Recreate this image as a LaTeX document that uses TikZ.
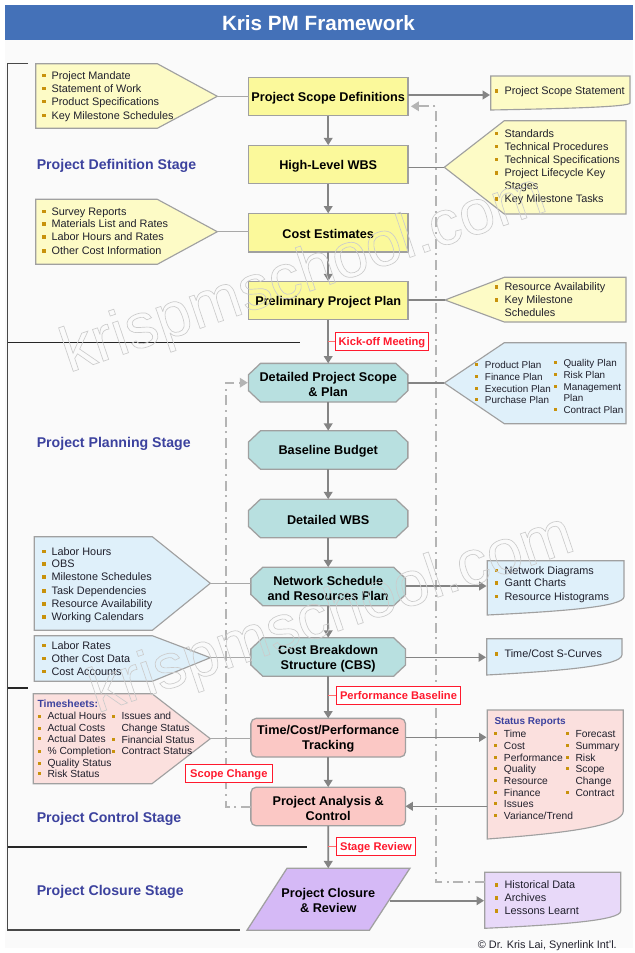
\documentclass[tikz,border=0pt]{standalone}
\usepackage{fontspec}
\setmainfont{Liberation Sans}
\usetikzlibrary{arrows.meta}
\definecolor{titlebar}{HTML}{4471B8}
\definecolor{pagebg}{HTML}{FAFAFA}
\definecolor{bracket}{HTML}{484848}
\definecolor{yellowbox}{HTML}{FBF99B}
\definecolor{yellowlite}{HTML}{FDFBC6}
\definecolor{tealbox}{HTML}{B8E0E0}
\definecolor{bluelite}{HTML}{DFF0FA}
\definecolor{pinkbox}{HTML}{FBC8C5}
\definecolor{pinklite}{HTML}{FBE0DE}
\definecolor{purplebox}{HTML}{D5B9F6}
\definecolor{purplelite}{HTML}{E8D9F9}
\definecolor{edgegrey}{HTML}{A0A0A0}
\definecolor{arrowgrey}{HTML}{848484}
\definecolor{dashgrey}{HTML}{B4B4B4}
\definecolor{linkgrey}{HTML}{A8A8A8}
\definecolor{stagenavy}{HTML}{3C429E}
\definecolor{bulletcol}{HTML}{C8920C}
\definecolor{bodytext}{HTML}{20202C}
\definecolor{flagred}{HTML}{FF1A2E}
\definecolor{flaglink}{HTML}{FF7070}
\tikzset{
  boxedge/.style={draw=edgegrey,line width=0.95pt},
  boxtext/.style={inner sep=0pt,outer sep=0pt,align=center,text=black,
    font=\fontsize{9.5}{11.25}\selectfont\bfseries},
  plainbox/.style={rectangle,inner sep=0pt,outer sep=0pt,minimum height=29pt},
  yellowstep/.style={plainbox,boxedge,fill=yellowbox,minimum width=119.5pt},
  pinkstep/.style={plainbox,boxedge,rounded corners=4pt,fill=pinkbox,minimum width=116pt},
  callout/.style={draw=edgegrey,line width=0.85pt},
  flow/.style={draw=arrowgrey,line width=1.2pt,-{Triangle[length=5.5pt,width=6.5pt]}},
  link/.style={draw=linkgrey,line width=1pt},
  back/.style={draw=dashgrey,line width=1.5pt,dash pattern=on 7.5pt off 3.5pt on 1.5pt off 3.5pt},
  backtip/.style={back,-{Triangle[length=6pt,width=7pt]}},
  frame/.style={draw=bracket,line width=1.15pt},
  stagelabel/.style={anchor=west,inner sep=0pt,text=stagenavy,text height=7.7pt,text depth=0pt,font=\fontsize{10.6}{12}\selectfont\bfseries},
  flag/.style={draw=flagred,fill=white,line width=0.85pt,inner sep=0pt,text=flagred,text height=6pt,text depth=0pt,minimum height=13.5pt,font=\fontsize{8.35}{10}\selectfont\bfseries},
  flaglinkstyle/.style={draw=flaglink,line width=1pt},
  listL/.style={inner sep=0pt,text=bodytext,text height=5.9pt,text depth=0pt,font=\fontsize{8.15}{10}\selectfont},
  listM/.style={inner sep=0pt,text=bodytext,text height=5.4pt,text depth=0pt,font=\fontsize{7.7}{10}\selectfont},
  listS/.style={inner sep=0pt,text=bodytext,text height=5.3pt,text depth=0pt,font=\fontsize{7.4}{10}\selectfont},
  heading/.style={inner sep=0pt,anchor=west,text=stagenavy,text height=5.4pt,text depth=0pt},
}
\newcounter{itm}
\newcommand\bhalf{1.8}
% style, bullet x, text x, y, text
\newcommand\lstitem[5]{\stepcounter{itm}%
  \fill[bulletcol] (#2-\bhalf,#4-\bhalf) rectangle (#2+\bhalf,#4+\bhalf);%
  \node[#1,anchor=west] (item\arabic{itm}) at (#3,#4) {#5};}
\newcommand\lstcont[4]{\stepcounter{itm}%
  \node[#1,anchor=west] (item\arabic{itm}) at (#2,#3) {#4};}
% fill colour, x1, x2, top, right bottom, left bottom
\newcommand\wavebox[6]{%
  \path[callout,fill=#1] (#2,#4) -- (#3,#4) -- (#3,#5)
    .. controls (#3,{#5+0.55*(#6-#5)}) and ({#3-0.45*(#3-#2)},{#5+0.8*(#6-#5)}) .. (#2,#6) -- cycle;}
% style, name, x, y, text
\newcommand\stepbox[5]{%
  \node[#1] (#2) at (#3,#4) {};
  \node[boxtext] (#2T) at ([yshift=-1.1pt]#2.center) {#5};}
% name, x, y, width, text
\newcommand\octa[5]{%
  \node[plainbox,minimum width=#4] (#1) at (#2,#3) {};
  \path[boxedge,fill=tealbox] ([xshift=9pt]#1.north west) -- ([xshift=-9pt]#1.north east)
    -- ([yshift=-8.5pt]#1.north east) -- ([yshift=8.5pt]#1.south east)
    -- ([xshift=-9pt]#1.south east) -- ([xshift=9pt]#1.south west)
    -- ([yshift=8.5pt]#1.south west) -- ([yshift=-8.5pt]#1.north west) -- cycle;
  \node[boxtext] (#1T) at ([yshift=-1.1pt]#1.center) {#5};}
\newcommand\wmtext[1]{\special{pdf:code q 0.8 G 0.5 w 1 Tr}#1\special{pdf:code Q}}
\begin{document}
\begin{tikzpicture}[x=0.75pt,y=-0.75pt]
\useasboundingbox (0,0) rectangle (635,953);
\fill[white] (0,0) rectangle (635,953);
\fill[pagebg] (5,5) rectangle (633,948);
\fill[titlebar] (5,5) rectangle (632.5,40);
\node[inner sep=0pt,text=white,text height=11.2pt,text depth=0pt,font=\fontsize{15.5}{18}\selectfont\bfseries] (title) at (318.5,22.7) {Kris PM Framework};

% stage frame
\coordinate (ftop) at (28,63.7);
\coordinate (fcorner) at (7.5,63.7);
\coordinate (fbottom) at (7.5,930);
\coordinate (fend) at (240,930);
\draw[frame] (ftop) -- (fcorner) -- (fbottom) -- (fend);
\coordinate (d1) at (300,342.7);
\coordinate (d2) at (27.5,688);
\coordinate (d3) at (307,847);
\draw[draw=black!85,line width=0.8pt] (fcorner |- d1) -- (d1);
\draw[draw=black!85,line width=0.8pt] (fcorner |- d2) -- (d2);
\draw[draw=black!85,line width=0.8pt] (fcorner |- d3) -- (d3);

% stage labels
\node[stagelabel] (st1) at (36.5,164) {Project Definition Stage};
\node[stagelabel] (st2) at (36.5,442) {Project Planning Stage};
\node[stagelabel] (st3) at (36.5,817) {Project Control Stage};
\node[stagelabel] (st4) at (36.5,890) {Project Closure Stage};

% callouts
\path[callout,fill=yellowlite] (35.7,63.7) -- (157.3,63.7) -- (217.3,96.3) -- (157.3,128.3) -- (35.7,128.3) -- cycle;
\coordinate (tipA) at (217.3,96.3);
\path[callout,fill=yellowlite] (35.7,199.3) -- (157.3,199.3) -- (217.3,231.7) -- (157.3,264.3) -- (35.7,264.3) -- cycle;
\coordinate (tipB) at (217.3,231.7);
\path[callout,fill=yellowlite] (444.3,167.3) -- (504.3,120.7) -- (626,120.7) -- (626,214) -- (504.3,214) -- cycle;
\coordinate (tipC) at (444.3,167.3);
\path[callout,fill=yellowlite] (445,300) -- (504.3,277.3) -- (626,277.3) -- (626,322) -- (504.3,322) -- cycle;
\coordinate (tipD) at (445,300);
\path[callout,fill=bluelite] (444.3,383) -- (504.3,342.7) -- (626,342.7) -- (626,423.7) -- (504.3,423.7) -- cycle;
\coordinate (tipE) at (444.3,383);
\path[callout,fill=bluelite] (34.3,536.7) -- (152.3,536.7) -- (210.3,583.3) -- (152.3,630.3) -- (34.3,630.3) -- cycle;
\coordinate (tipF) at (210.3,583.3);
\path[callout,fill=bluelite] (34.3,635.7) -- (152.3,635.7) -- (210.3,657.7) -- (152.3,681.3) -- (34.3,681.3) -- cycle;
\coordinate (tipG) at (210.3,657.7);
\path[callout,fill=pinklite] (33.3,693.7) -- (152,693.7) -- (210.3,738.7) -- (152,783.7) -- (33.3,783.7) -- cycle;
\coordinate (tipH) at (210.3,738.7);
\wavebox{yellowlite}{490.7}{630}{76}{103}{110}
\coordinate (inScope) at (490,95);
\wavebox{bluelite}{487.3}{624}{560.7}{596.7}{615}
\coordinate (inNet) at (486.5,586);
\wavebox{bluelite}{486.7}{622}{638.7}{654.7}{675}
\coordinate (inCurve) at (486,657.3);
\wavebox{pinklite}{487.3}{623.3}{710}{811}{839}
\coordinate (inStatus) at (486.5,737.3);
\coordinate (outStatus) at (487.3,806.3);
\wavebox{purplelite}{484.7}{620.7}{872.3}{911}{928.3}
\coordinate (inHist) at (484,900.7);
\coordinate (outHist) at (484.7,882.3);

% process steps
\stepbox{yellowstep}{scope}{328.2}{96.5}{Project Scope Definitions}
\stepbox{yellowstep}{wbs}{328.2}{164.5}{High-Level WBS}
\stepbox{yellowstep}{cost}{328.2}{232.7}{Cost Estimates}
\stepbox{yellowstep}{prelim}{328.2}{300.5}{Preliminary Project Plan}
\octa{detail}{328.2}{382.7}{119.5pt}{Detailed Project Scope\\\& Plan}
\octa{budget}{328.2}{450}{119.5pt}{Baseline Budget}
\octa{dwbs}{328.2}{518.5}{119.5pt}{Detailed WBS}
\octa{network}{328.2}{586.5}{116pt}{Network Schedule\\and Resources Plan}
\octa{cbs}{328.2}{657}{116pt}{Cost Breakdown\\Structure (CBS)}
\stepbox{pinkstep}{track}{328.2}{737.7}{Time/Cost/Performance\\Tracking}
\stepbox{pinkstep}{analysis}{328.2}{806.5}{Project Analysis \&\\Control}
\node[plainbox,minimum width=92pt,minimum height=46.5pt] (closure) at (328.3,899.3) {};
\path[boxedge,fill=purplebox] ([xshift=15pt]closure.north west) -- ([xshift=15.2pt]closure.north east)
  -- ([xshift=-15.2pt]closure.south east) -- ([xshift=-15pt]closure.south west) -- cycle;
\node[boxtext] (closureT) at ([yshift=-1.1pt]closure.center) {Project Closure\\\& Review};

% feedback lines
\coordinate (vr) at (435.7,106.3);
\draw[backtip,shorten >=2.25pt] (outHist) -- (vr |- outHist) -- (vr) -- (scope.east |- vr);
\coordinate (vl) at (225.5,382.7);
\draw[backtip,shorten >=0.5pt] (analysis.west) -- (vl |- analysis.west) -- (vl) -- (detail.west);

% links
\draw[link] (tipA) -- (scope.west |- tipA);
\draw[link] (tipB) -- (cost.west |- tipB);
\draw[link] (tipF) -- (network.west |- tipF);
\draw[link] (tipG) -- (cbs.west |- tipG);
\draw[link] (tipH) -- (track.west |- tipH);
\draw[draw=arrowgrey,line width=0.85pt] (wbs.east |- tipC) -- (tipC);
\draw[draw=arrowgrey,line width=0.85pt] (prelim.east |- tipD) -- (tipD);
\draw[draw=arrowgrey,line width=0.85pt] (detail.east |- tipE) -- (tipE);

% main flow
\draw[flow] (scope) -- (wbs);
\draw[flow] (wbs) -- (cost);
\draw[flow] (cost) -- (prelim);
\draw[flow] (prelim) -- (detail);
\draw[flow] (detail) -- (budget);
\draw[flow] (budget) -- (dwbs);
\draw[flow] (dwbs) -- (network);
\draw[flow] (network) -- (cbs);
\draw[flow] (cbs) -- (track);
\draw[flow] (track) -- (analysis);
\draw[flow] (analysis) -- (closure);
\draw[flow] (scope.east |- inScope) -- (inScope);
\draw[flow] (network.east |- inNet) -- (inNet);
\draw[flow] (cbs.east |- inCurve) -- (inCurve);
\draw[flow] (track.east |- inStatus) -- (inStatus);
\draw[flow] (outStatus) -- (analysis.east |- outStatus);
\draw[flow] (closure.east |- inHist) -- (inHist);

% flags
\node[flag,minimum width=69.4pt] (kick) at (382,341.3) {Kick-off Meeting};
\node[flag,minimum width=92.7pt] (perf) at (398.5,695.5) {Performance Baseline};
\node[flag,minimum width=58.9pt] (stagerev) at (376,846.8) {Stage Review};
\node[flag,minimum width=65.2pt] (change) at (228.8,773.7) {Scope Change};
\draw[flaglinkstyle] (prelim.south |- kick.west) -- (kick.west);
\draw[flaglinkstyle] (cbs.south |- perf.west) -- (perf.west);
\draw[flaglinkstyle] (analysis.south |- stagerev.west) -- (stagerev.west);

% lists
\lstitem{listL}{43.7}{51.3}{75.3}{Project Mandate}
\lstitem{listL}{43.7}{51.3}{88.3}{Statement of Work}
\lstitem{listL}{43.7}{51.3}{101.3}{Product Specifications}
\lstitem{listL}{43.7}{51.3}{115.3}{Key Milestone Schedules}
\lstitem{listL}{43.7}{51.3}{211.3}{Survey Reports}
\lstitem{listL}{43.7}{51.3}{224}{Materials List and Rates}
\lstitem{listL}{43.7}{51.3}{237}{Labor Hours and Rates}
\lstitem{listL}{43.7}{51.3}{251}{Other Cost Information}
\lstitem{listL}{496.3}{504.3}{91}{Project Scope Statement}
\lstitem{listL}{496.3}{504.3}{133.3}{Standards}
\lstitem{listL}{496.3}{504.3}{146.3}{Technical Procedures}
\lstitem{listL}{496.3}{504.3}{159.3}{Technical Specifications}
\lstitem{listL}{496.3}{504.3}{173}{Project Lifecycle Key}
\lstcont{listL}{504.3}{186}{Stages}
\lstitem{listL}{496.3}{504.3}{199}{Key Milestone Tasks}
\lstitem{listL}{496.3}{504.3}{287}{Resource Availability}
\lstitem{listL}{496.3}{504.3}{300}{Key Milestone}
\lstcont{listL}{504.3}{313}{Schedules}
\lstitem{listL}{43.7}{51.3}{551.3}{Labor Hours}
\lstitem{listL}{43.7}{51.3}{564}{OBS}
\lstitem{listL}{43.7}{51.3}{577}{Milestone Schedules}
\lstitem{listL}{43.7}{51.3}{591}{Task Dependencies}
\lstitem{listL}{43.7}{51.3}{604}{Resource Availability}
\lstitem{listL}{43.7}{51.3}{617}{Working Calendars}
\lstitem{listL}{43.7}{51.3}{645.3}{Labor Rates}
\lstitem{listL}{43.7}{51.3}{658.3}{Other Cost Data}
\lstitem{listL}{43.7}{51.3}{671.3}{Cost Accounts}
\lstitem{listL}{496.3}{504.3}{570.3}{Network Diagrams}
\lstitem{listL}{496.3}{504.3}{583}{Gantt Charts}
\lstitem{listL}{496.3}{504.3}{596.3}{Resource Histograms}
\lstitem{listL}{496.3}{504.3}{654}{Time/Cost S-Curves}
\lstitem{listL}{496.3}{504.3}{885}{Historical Data}
\lstitem{listL}{496.3}{504.3}{898}{Archives}
\lstitem{listL}{496.3}{504.3}{911}{Lessons Learnt}
\renewcommand\bhalf{1.5}
\lstitem{listS}{476}{484.7}{364.7}{Product Plan}
\lstitem{listS}{476}{484.7}{376.7}{Finance Plan}
\lstitem{listS}{476}{484.7}{388.7}{Execution Plan}
\lstitem{listS}{476}{484.7}{399.7}{Purchase Plan}
\lstitem{listS}{555}{563.3}{362.7}{Quality Plan}
\lstitem{listS}{555}{563.3}{374.7}{Risk Plan}
\lstitem{listS}{555}{563.3}{386.7}{Management}
\lstcont{listS}{563.3}{397.7}{Plan}
\lstitem{listS}{555}{563.3}{409.7}{Contract Plan}
\node[heading,font=\fontsize{7.8}{10}\selectfont\bfseries] (timehead) at (37.3,703.7) {Timesheets:};
\lstitem{listM}{39}{47.3}{716}{Actual Hours}
\lstitem{listM}{39}{47.3}{728}{Actual Costs}
\lstitem{listM}{39}{47.3}{738.7}{Actual Dates}
\lstitem{listM}{39}{47.3}{751}{\% Completion}
\lstitem{listM}{39}{47.3}{763}{Quality Status}
\lstitem{listM}{39}{47.3}{773.7}{Risk Status}
\lstitem{listM}{113}{121.3}{716}{Issues and}
\lstcont{listM}{121.3}{728}{Change Status}
\lstitem{listM}{113}{121.3}{739.7}{Financial Status}
\lstitem{listM}{113}{121.3}{751}{Contract Status}
\node[heading,font=\fontsize{7.5}{10}\selectfont\bfseries] (statushead) at (494.3,720.7) {Status Reports};
\lstitem{listM}{495.3}{503.7}{733.7}{Time}
\lstitem{listM}{495.3}{503.7}{745.7}{Cost}
\lstitem{listM}{495.3}{503.7}{757.7}{Performance}
\lstitem{listM}{495.3}{503.7}{768.7}{Quality}
\lstitem{listM}{495.3}{503.7}{780.7}{Resource}
\lstitem{listM}{495.3}{503.7}{792.7}{Finance}
\lstitem{listM}{495.3}{503.7}{803.7}{Issues}
\lstitem{listM}{495.3}{503.7}{815.7}{Variance/Trend}
\lstitem{listM}{567.3}{575.3}{733.7}{Forecast}
\lstitem{listM}{567.3}{575.3}{745.7}{Summary}
\lstitem{listM}{567.3}{575.3}{757.7}{Risk}
\lstitem{listM}{567.3}{575.3}{768.7}{Scope}
\lstcont{listM}{575.3}{780.7}{Change}
\lstitem{listM}{567.3}{575.3}{792.7}{Contract}
\node[listL,anchor=east] (credit) at (617,945) {© Dr. Kris Lai, Synerlink Int'l.};

% watermark
\node[inner sep=0pt,rotate=18.7,font=\fontsize{47.5}{50}\selectfont] (mark1) at (304,276) {\wmtext{krispmschool.com}};
\node[inner sep=0pt,rotate=18.8,font=\fontsize{47.5}{50}\selectfont] (mark2) at (332,616) {\wmtext{krispmschool.com}};
\end{tikzpicture}
\end{document}
